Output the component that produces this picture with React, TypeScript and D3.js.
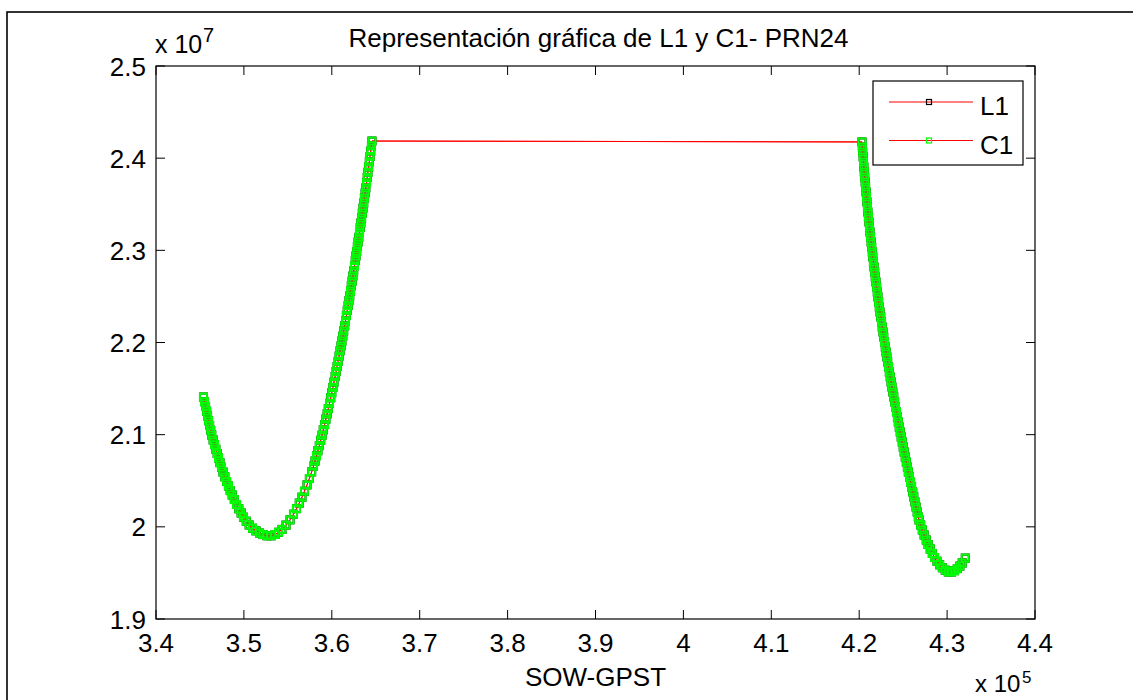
import React from 'react';
import * as d3 from 'd3';

// Seconds of GPS week (SOW) for each epoch of the two passes of PRN24.
const SOW = [
  // first pass
  345400, 345520, 345640, 345760, 345870, 345980, 346100, 346220, 346340, 346500,
  346660, 346810, 346960, 347110, 347280, 347450, 347620, 347830, 348030, 348240,
  348440, 348670, 348910, 349160, 349420, 349690, 349950, 350270, 350600, 350980,
  351380, 351780, 352170, 352630, 353080, 353540, 353940, 354340, 354790, 355250,
  355640, 355980, 356300, 356610, 356890, 357180, 357450, 357710, 357920, 358090,
  358260, 358420, 358580, 358740, 358890, 359030, 359180, 359330, 359470, 359600,
  359740, 359880, 360000, 360130, 360250, 360380, 360490, 360600, 360720, 360830,
  360940, 361050, 361150, 361250, 361350, 361460, 361560, 361660, 361760, 361860,
  361950, 362040, 362130, 362220, 362310, 362400, 362490, 362580, 362670, 362750,
  362830, 362910, 362990, 363070, 363150, 363230, 363310, 363390, 363470, 363550,
  363630, 363710, 363790, 363870, 363950, 364030, 364110, 364190, 364270, 364350,
  364430, 364510, 364570,
  // second pass
  420320, 420360, 420400, 420450, 420490, 420530, 420580, 420630, 420680, 420730,
  420780, 420830, 420880, 420940, 420990, 421050, 421110, 421170, 421230, 421290,
  421360, 421420, 421490, 421550, 421620, 421690, 421760, 421830, 421910, 421980,
  422060, 422130, 422210, 422290, 422370, 422450, 422540, 422620, 422710, 422790,
  422880, 422970, 423060, 423150, 423240, 423340, 423430, 423530, 423630, 423730,
  423830, 423930, 424030, 424130, 424240, 424350, 424450, 424560, 424670, 424780,
  424900, 425010, 425120, 425240, 425360, 425480, 425590, 425720, 425840, 425960,
  426090, 426210, 426340, 426470, 426600, 426730, 426810, 426990, 427180, 427390,
  427630, 427840, 428080, 428320, 428570, 428850, 429150, 429460, 429790, 430140,
  430500, 430850, 431160, 431450, 431720, 432070,
];

// C1 pseudorange in kilometres, one value per epoch above.
const C1_KM = [
  21409, 21357, 21306, 21254, 21203, 21151, 21100, 21048, 20996, 20943,
  20892, 20842, 20795, 20747, 20696, 20646, 20595, 20543, 20492, 20443,
  20393, 20345, 20296, 20242, 20196, 20150, 20105, 20061, 20020, 19985,
  19956, 19933, 19916, 19903, 19903, 19917, 19941, 19972, 20019, 20076,
  20137, 20197, 20258, 20322, 20386, 20455, 20524, 20596, 20659, 20714,
  20771, 20825, 20881, 20939, 20994, 21052, 21109, 21169, 21225, 21282,
  21340, 21400, 21456, 21513, 21570, 21630, 21684, 21740, 21795, 21852,
  21910, 21962, 22016, 22069, 22125, 22180, 22235, 22292, 22349, 22401,
  22454, 22506, 22559, 22613, 22667, 22722, 22777, 22832, 22889, 22939,
  22988, 23040, 23090, 23141, 23194, 23246, 23298, 23351, 23404, 23458,
  23513, 23567, 23622, 23677, 23733, 23789, 23847, 23903, 23961, 24018,
  24077, 24135, 24186,
  24176, 24121, 24067, 24013, 23959, 23904, 23850, 23796, 23741, 23687,
  23633, 23579, 23525, 23470, 23416, 23362, 23308, 23253, 23199, 23145,
  23091, 23036, 22982, 22928, 22874, 22819, 22765, 22711, 22657, 22602,
  22548, 22494, 22440, 22385, 22331, 22277, 22223, 22168, 22114, 22060,
  22006, 21951, 21897, 21843, 21789, 21734, 21680, 21626, 21572, 21517,
  21463, 21409, 21355, 21300, 21246, 21192, 21138, 21083, 21029, 20975,
  20921, 20866, 20812, 20758, 20704, 20649, 20595, 20541, 20486, 20432,
  20378, 20324, 20270, 20215, 20161, 20107, 20074, 20020, 19966, 19911,
  19857, 19808, 19760, 19711, 19667, 19627, 19588, 19556, 19530, 19510,
  19510, 19524, 19547, 19574, 19608, 19661,
];

// L1 (carrier phase in metres) coincides with C1 at this scale.
const L1_KM = C1_KM;

const X_TICKS = [340000, 350000, 360000, 370000, 380000, 390000, 400000, 410000, 420000, 430000, 440000];
const X_TICK_LABELS = ['3.4', '3.5', '3.6', '3.7', '3.8', '3.9', '4', '4.1', '4.2', '4.3', '4.4'];
const Y_TICKS = [19e6, 20e6, 21e6, 22e6, 23e6, 24e6, 25e6];
const Y_TICK_LABELS = ['1.9', '2', '2.1', '2.2', '2.3', '2.4', '2.5'];

const TITLE = 'Representación gráfica de L1 y C1- PRN24';
const X_LABEL = 'SOW-GPST';
const SERIES_NAMES = ['L1', 'C1'];

const FONT = '"Liberation Sans", Arial, Helvetica, sans-serif';

export default function App() {
  const W = 1133;
  const H = 700;
  const left = 156, right = 1035, top = 66, bottom = 619;

  const x = d3.scaleLinear().domain([340000, 440000]).range([left, right]);
  const y = d3.scaleLinear().domain([19e6, 25e6]).range([bottom, top]);

  const l1 = SOW.map((t, i) => [t, L1_KM[i] * 1000] as [number, number]);
  const c1 = SOW.map((t, i) => [t, C1_KM[i] * 1000] as [number, number]);

  const line = d3.line<[number, number]>().x(d => x(d[0])).y(d => y(d[1]));

  const tickLen = 9;
  const ms = 7; // marker size

  const markers = (pts: [number, number][], stroke: string) =>
    pts.map((d, i) => (
      <rect key={i} x={x(d[0]) - ms / 2} y={y(d[1]) - ms / 2} width={ms} height={ms}
        fill="none" stroke={stroke} strokeWidth={2} />
    ));

  // Legend geometry
  const lg = { x0: 873, y0: 81, x1: 1023, y1: 165 };
  const legendRows = [
    { name: SERIES_NAMES[0], y: 102, marker: '#000000' },
    { name: SERIES_NAMES[1], y: 140.5, marker: '#00ff00' },
  ];

  return (
    <svg width={W} height={H} style={{ position: 'absolute', left: 0, top: 0, background: '#fff' }}
      fontFamily={FONT}>
      <rect x={0} y={0} width={W} height={H} fill="#fff" />
      {/* figure frame */}
      <rect x={7} y={12} width={W + 20} height={H + 20} fill="none" stroke="#000" strokeWidth={1.6} />

      {/* series */}
      <path d={line(l1) || ''} fill="none" stroke="#ff0000" strokeWidth={1} />
      <g>{markers(l1, '#000000')}</g>
      <path d={line(c1) || ''} fill="none" stroke="#ff0000" strokeWidth={1} />
      <g>{markers(c1, '#00ff00')}</g>

      {/* axes box */}
      <rect x={left} y={top} width={right - left} height={bottom - top} fill="none" stroke="#000" strokeWidth={1.2} />

      {/* x ticks */}
      {X_TICKS.map((t, i) => (
        <g key={'xt' + i}>
          <line x1={x(t)} x2={x(t)} y1={bottom} y2={bottom - tickLen} stroke="#000" strokeWidth={1} />
          <line x1={x(t)} x2={x(t)} y1={top} y2={top + tickLen} stroke="#000" strokeWidth={1} />
          <text x={x(t)} y={652} fontSize={26} textAnchor="middle" fill="#000">{X_TICK_LABELS[i]}</text>
        </g>
      ))}

      {/* y ticks */}
      {Y_TICKS.map((t, i) => (
        <g key={'yt' + i}>
          <line x1={left} x2={left + tickLen} y1={y(t)} y2={y(t)} stroke="#000" strokeWidth={1} />
          <line x1={right} x2={right - tickLen} y1={y(t)} y2={y(t)} stroke="#000" strokeWidth={1} />
          <text x={146} y={y(t) + 9.5} fontSize={26} textAnchor="end" fill="#000">{Y_TICK_LABELS[i]}</text>
        </g>
      ))}

      {/* axis exponents */}
      <text x={155} y={53} fontSize={25} fill="#000">x 10</text>
      <text x={203} y={42} fontSize={20} fill="#000">7</text>
      <text x={975} y={692} fontSize={24} fill="#000">x 10</text>
      <text x={1022} y={683} fontSize={17} fill="#000">5</text>

      {/* title and x label */}
      <text x={(left + right) / 2 + 3} y={47} fontSize={26} textAnchor="middle" fill="#000">{TITLE}</text>
      <text x={(left + right) / 2} y={686} fontSize={26} textAnchor="middle" fill="#000">{X_LABEL}</text>

      {/* legend */}
      <rect x={lg.x0} y={lg.y0} width={lg.x1 - lg.x0} height={lg.y1 - lg.y0} fill="#fff" stroke="#000" strokeWidth={1.2} />
      {legendRows.map((r, i) => (
        <g key={'lg' + i}>
          <line x1={889} x2={973} y1={r.y} y2={r.y} stroke="#ff0000" strokeWidth={1} />
          <rect x={929 - 2.5} y={r.y - 2.5} width={5} height={5} fill="none" stroke={r.marker} strokeWidth={1.2} />
          <text x={980} y={r.y + 13} fontSize={26} fill="#000">{r.name}</text>
        </g>
      ))}
    </svg>
  );
}
